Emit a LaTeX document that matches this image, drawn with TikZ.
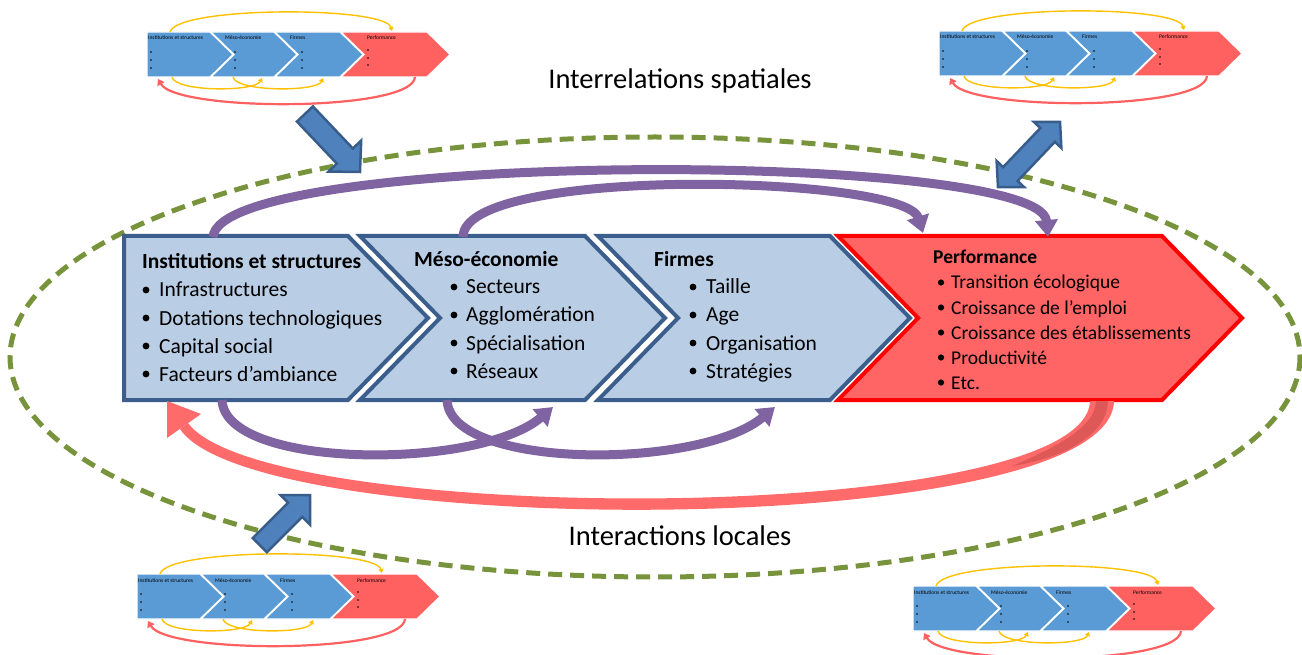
\documentclass[tikz,border=0pt]{standalone}
\usepackage{fontspec}
\setmainfont{Carlito}
\usetikzlibrary{arrows.meta}
\definecolor{boxfill}{HTML}{B9CDE5}
\definecolor{boxdraw}{HTML}{3B5E8C}
\definecolor{redfill}{HTML}{FF6565}
\definecolor{reddraw}{HTML}{FF0000}
\definecolor{purp}{HTML}{8064A2}
\definecolor{olive}{HTML}{77933C}
\definecolor{barfill}{HTML}{4F81BD}
\definecolor{bardraw}{HTML}{385D8A}
\definecolor{tblue}{HTML}{5B9BD5}
\definecolor{tred}{HTML}{FF6060}
\definecolor{tyellow}{HTML}{FFC000}
\definecolor{bigred}{HTML}{FF6B6B}
\definecolor{bigreddark}{HTML}{D05050}
\tikzset{
  bluebox/.style={fill=boxfill, draw=boxdraw, line width=4pt},
  redbox/.style={fill=redfill, draw=reddraw, line width=4pt},
  head/.style={anchor=base west, inner sep=0pt, font=\fontsize{21.5}{24}\selectfont\bfseries},
  item/.style={anchor=base west, inner sep=0pt, font=\fontsize{21.5}{24}\selectfont},
  rhead/.style={anchor=base west, inner sep=0pt, font=\fontsize{19.5}{22}\selectfont\bfseries},
  ritem/.style={anchor=base west, inner sep=0pt, font=\fontsize{19.5}{22}\selectfont},
  title/.style={anchor=base, inner sep=0pt, font=\fontsize{28.5}{32}\selectfont},
  purparc/.style={draw=purp, line width=9pt, -{Triangle[width=22pt,length=17pt]}},
  blockarrow/.style={fill=barfill, draw=bardraw, line width=2.5pt, line join=miter},
  tlabel/.style={anchor=base west, inner sep=0pt, font=\fontsize{5.5}{6}\selectfont},
  thumb/.pic={
    \path[fill=tblue, draw=white, line width=1.2pt] (0,0) -- (63,0) -- (86,22.5) -- (63,45) -- (0,45) -- cycle;
    \path[fill=tblue, draw=white, line width=1.2pt] (64,0) -- (127,0) -- (150,22.5) -- (127,45) -- (64,45) -- (87,22.5) -- cycle;
    \path[fill=tblue, draw=white, line width=1.2pt] (128,0) -- (193,0) -- (216,22.5) -- (193,45) -- (128,45) -- (151,22.5) -- cycle;
    \path[fill=tred, draw=white, line width=1.2pt] (194,0) -- (280,0) -- (303,22.5) -- (280,45) -- (194,45) -- (217,22.5) -- cycle;
    \node[tlabel] (-a) at (1,8) {Institutions et structures};
    \node[tlabel] (-b) at (78,8) {Méso-économie};
    \node[tlabel] (-c) at (143,8) {Firmes};
    \node[tlabel] (-d) at (220,8) {Performance};
    \foreach \bx in {4,88,155}{\foreach \by in {20,28,36}{\fill (\bx,\by) circle (0.9);}}
    \foreach \by in {18,26,33}{\fill (221,\by) circle (0.9);}
    \draw[tyellow, line width=1.4pt, -{Triangle[width=5pt,length=4pt]}] (23,0) .. controls (30,-26) and (238,-26) .. (245,-1);
    \draw[tyellow, line width=1.4pt, -{Triangle[width=5pt,length=4pt]}] (25,45) .. controls (28,60) and (108,60) .. (115,46);
    \draw[tyellow, line width=1.4pt, -{Triangle[width=5pt,length=4pt]}] (86,45) .. controls (89,60) and (170,60) .. (176,46);
    \draw[tred, line width=2.2pt, -{Triangle[width=8pt,length=6pt]}] (268,45) .. controls (266,80) and (30,80) .. (11,47);
  }
}
\begin{document}
\begin{tikzpicture}[x=1pt,y=-1pt]
\useasboundingbox (0,0) rectangle (1302,655);

% dashed ellipse
\draw[olive, line width=5pt, dash pattern=on 14pt off 8pt] (655,357) ellipse [x radius=645, y radius=220];

% thumbnails
\pic (t1) at (147,32) {thumb};
\pic (t2) at (939,31) {thumb};
\pic (t3) at (137,574) {thumb};
\pic (t4) at (913,586) {thumb};

% titles
\node[title] (ts) at (680,89) {Interrelations spatiales};
\node[title] (tl) at (680,545) {Interactions locales};

% chevrons
\path[bluebox] (124,236) -- (348,236) -- (428,318) -- (348,400) -- (124,400) -- cycle;
\path[bluebox] (360,236) -- (585,236) -- (665,318) -- (585,400) -- (360,400) -- (440,318) -- cycle;
\path[bluebox] (598,236) -- (830,236) -- (910,318) -- (830,400) -- (598,400) -- (678,318) -- cycle;
\path[redbox] (838,236) -- (1162,236) -- (1242,318) -- (1162,400) -- (838,400) -- (918,318) -- cycle;

% box 1 text
\node[head] (h1) at (142,269) {Institutions et structures};
\node[item] (i11) at (159,297) {Infrastructures};
\node[item] (i12) at (159,325) {Dotations technologiques};
\node[item] (i13) at (159,353) {Capital social};
\node[item] (i14) at (159,381) {Facteurs d’ambiance};
\foreach \by in {297,325,353,381}{\fill (146,\by-7) circle (3.4);}
% box 2 text
\node[head] (h2) at (414,267) {Méso-économie};
\node[item] (i21) at (466,294) {Secteurs};
\node[item] (i22) at (466,322) {Agglomération};
\node[item] (i23) at (466,350) {Spécialisation};
\node[item] (i24) at (466,378) {Réseaux};
\foreach \by in {294,322,350,378}{\fill (454,\by-7) circle (3.4);}
% box 3 text
\node[head] (h3) at (654,267) {Firmes};
\node[item] (i31) at (706,294) {Taille};
\node[item] (i32) at (706,322) {Age};
\node[item] (i33) at (706,350) {Organisation};
\node[item] (i34) at (706,378) {Stratégies};
\foreach \by in {294,322,350,378}{\fill (693,\by-7) circle (3.4);}
% red box text
\node[rhead] (h4) at (933,264) {Performance};
\node[ritem] (i41) at (951,289) {Transition écologique};
\node[ritem] (i42) at (951,314) {Croissance de l’emploi};
\node[ritem] (i43) at (951,339) {Croissance des établissements};
\node[ritem] (i44) at (951,364) {Productivité};
\node[ritem] (i45) at (951,389) {Etc.};
\foreach \by in {289,314,339,364,389}{\fill (941,\by-6.5) circle (3.1);}

% purple arcs
\draw[purparc] (213,237) .. controls (220,150) and (1040,150) .. (1048,237);
\draw[purparc] (463,237) .. controls (463,165) and (905,175) .. (923,233);
\draw[purparc] (222,400) .. controls (225,470) and (480,470) .. (553,407);
\draw[purparc] (447,400) .. controls (450,470) and (700,470) .. (775,407);

% big red arc (tapered body + head)
\fill[bigred] (1090,401) -- (1114,401) .. controls (1111,541) and (255,541) .. (180,429)
  -- (188,423) .. controls (265,527) and (1086,527) .. (1090,401) -- cycle;
\fill[bigred] (167,401) -- (201,414) -- (167,438) -- cycle;
\fill[bigreddark, opacity=0.7] (1096,401) -- (1108,401) .. controls (1107.5,432) and (1070,457) .. (1012,466)
  .. controls (1064,444) and (1095,425) .. (1096,401) -- cycle;

% block arrows
\begin{scope}[shift={(360,172)}, rotate=-46.5]
  \path[blockarrow] (0,0) -- (-22,22.5) -- (-22,11) -- (-80,11) -- (-80,-11) -- (-22,-11) -- (-22,-22.5) -- cycle;
\end{scope}
\begin{scope}[shift={(1029,154.5)}, rotate=46.4]
  \path[blockarrow] (45,0) -- (27,19) -- (27,10) -- (-27,10) -- (-27,19) -- (-45,0) -- (-27,-19) -- (-27,-10) -- (27,-10) -- (27,-19) -- cycle;
\end{scope}
\begin{scope}[shift={(310,495)}, rotate=45]
  \path[blockarrow] (0,0) -- (-21,21) -- (-21,10) -- (-71,10) -- (-71,-10) -- (-21,-10) -- (-21,-21) -- cycle;
\end{scope}
\end{tikzpicture}
\end{document}
